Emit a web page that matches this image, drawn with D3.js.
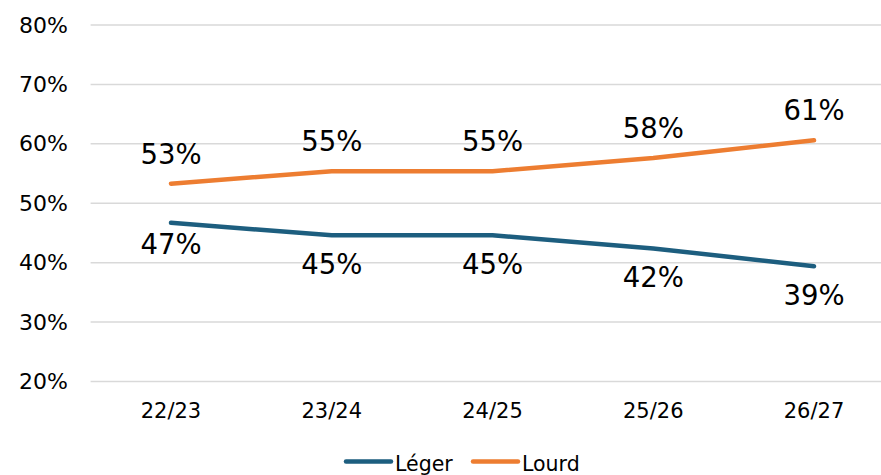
<!DOCTYPE html>
<html>
  <head>
    <meta charset="utf-8">
    <style>
      body { margin: 0; background: #fff; }
      text { font-family: "DejaVu Sans", Verdana, sans-serif; fill: #000; }
    </style>
  </head>
  <body>
    <div id="my_dataviz"></div>
  </body>
</html>

<script src="https://d3js.org/d3.v7.min.js"></script>

<script>
    // data
    var years = ["22/23", "23/24", "24/25", "25/26", "26/27"];
    var leger = [0.467, 0.446, 0.446, 0.424, 0.394];
    var lourd = [0.533, 0.554, 0.554, 0.576, 0.606];
    var yTicks = [0.2, 0.3, 0.4, 0.5, 0.6, 0.7, 0.8];
    var seriesNames = ["Léger", "Lourd"];
    var colors = ["#1d5e7f", "#ed7d31"];

    // small nudge on the first Léger label (sits closer to the line in the original)
    var legerNudge = [-8, 0, 0, 0, 0];

    var width = 881, height = 475;

    var svg = d3.select("#my_dataviz")
      .append("svg")
        .attr("width", width)
        .attr("height", height);

    // scales
    var x = d3.scaleBand()
      .domain(years)
      .range([90.6, 894.4]);
    var y = d3.scaleLinear()
      .domain([0.2, 0.8])
      .range([381.5, 25]);
    var cx = function(d) { return x(d) + x.bandwidth() / 2; };

    // gridlines
    svg.append("g")
      .selectAll("line")
      .data(yTicks)
      .enter()
      .append("line")
        .attr("x1", 90.6)
        .attr("x2", width)
        .attr("y1", function(d) { return y(d); })
        .attr("y2", function(d) { return y(d); })
        .attr("stroke", "#d9d9d9")
        .attr("stroke-width", 1.5);

    // Y axis labels
    var yAxis = svg.append("g")
      .attr("transform", "translate(76,0)")
      .call(d3.axisLeft(y).tickValues(yTicks).tickFormat(d3.format(".0%")).tickSize(0).tickPadding(8));
    yAxis.select(".domain").remove();
    yAxis.selectAll("text")
      .style("font-family", "'DejaVu Sans', Verdana, sans-serif")
      .style("font-size", "22px")
      .attr("fill", "#000");

    // X axis labels
    var xAxis = svg.append("g")
      .attr("transform", "translate(0,399)")
      .call(d3.axisBottom(x).tickSize(0).tickPadding(4));
    xAxis.select(".domain").remove();
    xAxis.selectAll("text")
      .style("font-family", "'DejaVu Sans', Verdana, sans-serif")
      .style("font-size", "21px")
      .attr("fill", "#000");

    // lines
    var line = d3.line()
      .x(function(d, i) { return cx(years[i]); })
      .y(function(d) { return y(d); });

    [leger, lourd].forEach(function(vals, s) {
      svg.append("path")
        .datum(vals)
        .attr("d", line)
        .attr("fill", "none")
        .attr("stroke", colors[s])
        .attr("stroke-width", 4.5)
        .attr("stroke-linecap", "round")
        .attr("stroke-linejoin", "round");
    });

    // data labels
    svg.append("g")
      .selectAll("text")
      .data(lourd)
      .enter()
      .append("text")
        .attr("x", function(d, i) { return cx(years[i]); })
        .attr("y", function(d) { return y(d) - 20; })
        .attr("text-anchor", "middle")
        .style("font-size", "27.5px")
        .text(function(d) { return d3.format(".0%")(d); });

    svg.append("g")
      .selectAll("text")
      .data(leger)
      .enter()
      .append("text")
        .attr("x", function(d, i) { return cx(years[i]); })
        .attr("y", function(d, i) { return y(d) + 39 + legerNudge[i]; })
        .attr("text-anchor", "middle")
        .style("font-size", "27.5px")
        .text(function(d) { return d3.format(".0%")(d); });

    // legend
    var legendX = [346, 473];
    var legend = svg.append("g")
      .selectAll("g")
      .data(seriesNames)
      .enter()
      .append("g")
        .attr("transform", function(d, i) { return "translate(" + legendX[i] + ",461.5)"; });
    legend.append("line")
      .attr("x1", 0).attr("x2", 45)
      .attr("stroke", function(d, i) { return colors[i]; })
      .attr("stroke-width", 4.5)
      .attr("stroke-linecap", "round");
    legend.append("text")
      .attr("x", 49)
      .attr("y", 9.5)
      .style("font-size", "20.5px")
      .text(function(d) { return d; });
</script>
